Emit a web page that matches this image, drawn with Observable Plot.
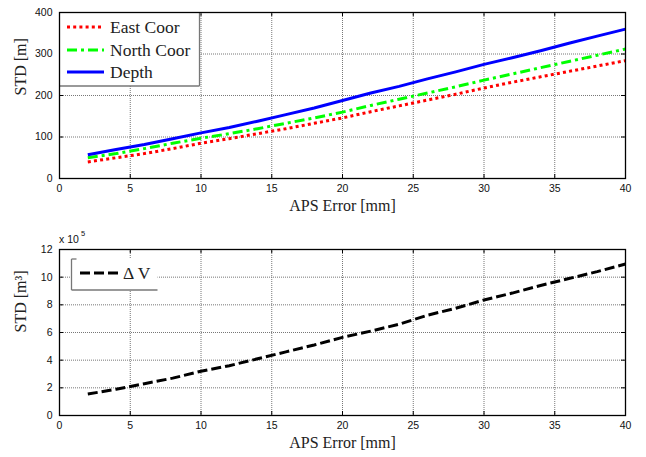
<!DOCTYPE html>
<html><head><meta charset="utf-8">
<script src="https://cdn.jsdelivr.net/npm/d3@7"></script>
<script src="https://cdn.jsdelivr.net/npm/@observablehq/plot@0.6"></script>
<style>html,body{margin:0;padding:0;background:#fff;} svg{display:block;}</style>
</head><body><div id="chart"></div>
<script>
// ---- data ----
const apsError  = [2, 4, 6, 8, 10, 12, 14, 16, 18, 20, 22, 24, 26, 28, 30, 32, 34, 36, 38, 40];
const eastCoor  = [40, 50, 60, 72, 85, 96, 108, 120, 133, 146, 161, 175, 189, 203, 218, 232, 245, 258, 271, 284];
const northCoor = [50, 60, 72, 85, 97, 108, 120, 133, 146, 160, 176, 191, 206, 221, 237, 252, 267, 282, 297, 312];
const depth     = [57, 70, 82, 96, 110, 123, 138, 154, 170, 188, 206, 222, 240, 257, 275, 291, 308, 326, 343, 360];
const deltaV    = [1.55, 1.9, 2.3, 2.7, 3.2, 3.6, 4.1, 4.6, 5.1, 5.65, 6.1, 6.6, 7.25, 7.75, 8.35, 8.85, 9.4, 9.9, 10.4, 10.95]; // x 10^5 m^3
const xTicks       = [0, 5, 10, 15, 20, 25, 30, 35, 40];
const yTicksTop    = [0, 100, 200, 300, 400];
const yTicksBottom = [0, 2, 4, 6, 8, 10, 12];
const topSeries = [
  {name: "East Coor",  values: eastCoor,  stroke: "#ff0000", dash: "3,3.2"},
  {name: "North Coor", values: northCoor, stroke: "#00ff00", dash: "10,4,3,4"},
  {name: "Depth",      values: depth,     stroke: "#0000ff", dash: null}
];
const bottomSeries = [{name: "\u0394 V", values: deltaV, stroke: "#000000", dash: "10,4"}];

const W = 646, mL = 59, mR = 21;
const plotW = W - mL - mR;
const sans = "'Liberation Sans', Arial, sans-serif";
const serif = "'Liberation Serif', 'Times New Roman', serif";

function panel({height, mT, mB, yDomain, yTicks, series, yLabel, xLabelDy}) {
  const plotH = height - mT - mB;
  const marks = [
    Plot.gridX(xTicks, {stroke: "#777", strokeOpacity: 1, strokeDasharray: "1,1", strokeWidth: 1}),
    Plot.gridY(yTicks, {stroke: "#777", strokeOpacity: 1, strokeDasharray: "1,1", strokeWidth: 1}),
  ];
  for (const s of series) {
    marks.push(Plot.line(apsError.map((x, i) => ({x, y: s.values[i]})), {
      x: "x", y: "y", stroke: s.stroke, strokeWidth: 3,
      strokeDasharray: s.dash, strokeLinecap: "butt", strokeLinejoin: "round"
    }));
  }
  marks.push(
    Plot.tickX(xTicks, {x: d => d, insetTop: plotH - 4, stroke: "#000"}),
    Plot.tickX(xTicks, {x: d => d, insetBottom: plotH - 4, stroke: "#000"}),
    Plot.tickY(yTicks, {y: d => d, insetRight: plotW - 4, stroke: "#000"}),
    Plot.tickY(yTicks, {y: d => d, insetLeft: plotW - 4, stroke: "#000"}),
    Plot.frame({stroke: "#000", strokeWidth: 1.3}),
    Plot.axisX(xTicks, {tickSize: 0, tickPadding: 6, label: null, fontSize: 10.5, fill: "#111"}),
    Plot.axisY(yTicks, {tickSize: 0, tickPadding: 7, label: null, fontSize: 10.5, fill: "#111"}),
    Plot.text(["APS Error [mm]"], {frameAnchor: "bottom", dy: xLabelDy, fontFamily: serif, fontSize: 16, fill: "#222"}),
    Plot.text([yLabel], {frameAnchor: "left", dx: -39, rotate: -90, fontFamily: serif, fontSize: 16, fill: "#222"})
  );
  return Plot.plot({
    width: W, height, marginTop: mT, marginBottom: mB, marginLeft: mL, marginRight: mR,
    x: {domain: [0, 40]},
    y: {domain: yDomain},
    style: {fontFamily: sans, fontSize: "10.5px", color: "#111", background: "#fff", overflow: "visible"},
    marks
  });
}

function finishLegend(svg, box, items, rowY, sampleX1, sampleX2, textX, edges) {
  const s = d3.select(svg);
  const g = s.append("g").attr("class", "legend").attr("text-anchor", "start");
  g.append("rect").attr("x", box.x).attr("y", box.y).attr("width", box.w).attr("height", box.h)
    .attr("fill", "#fff");
  const edge = "#777";
  if (edges.right) g.append("line").attr("x1", box.x + box.w).attr("x2", box.x + box.w)
    .attr("y1", box.y).attr("y2", box.y + box.h).attr("stroke", edge).attr("stroke-width", 1.3);
  if (edges.left) g.append("line").attr("x1", box.x).attr("x2", box.x)
    .attr("y1", box.y).attr("y2", box.y + box.h).attr("stroke", edge).attr("stroke-width", 1.3);
  if (edges.topStub) g.append("line").attr("x1", box.x).attr("x2", box.x + 5)
    .attr("y1", box.y).attr("y2", box.y).attr("stroke", edge).attr("stroke-width", 1.3);
  g.append("line").attr("x1", box.x).attr("x2", box.x + box.w)
    .attr("y1", box.y + box.h).attr("y2", box.y + box.h).attr("stroke", edge).attr("stroke-width", 1.5);
  items.forEach((it, i) => {
    g.append("line").attr("x1", sampleX1).attr("x2", sampleX2).attr("y1", rowY[i]).attr("y2", rowY[i])
      .attr("stroke", it.stroke).attr("stroke-width", 3)
      .attr("stroke-dasharray", it.dash).attr("stroke-linecap", "butt");
    g.append("text").attr("x", textX).attr("y", rowY[i]).attr("dy", "0.35em")
      .attr("font-family", serif).attr("font-size", 17.5).attr("fill", "#222").text(it.name);
  });
  // keep frame on top
  const fr = svg.querySelector('[aria-label="frame"]');
  if (fr) svg.appendChild(fr);
}

const root = document.getElementById("chart");

const topPlot = panel({height: 228, mT: 12, mB: 50, yDomain: [0, 400], yTicks: yTicksTop,
  series: topSeries, yLabel: "STD [m]", xLabelDy: 32});
root.appendChild(topPlot);
finishLegend(topPlot, {x: mL, y: 12, w: 140.5, h: 74}, topSeries, [27, 50, 72], 67, 104, 110,
  {right: true});

const botPlot = panel({height: 229, mT: 21, mB: 42, yDomain: [0, 12], yTicks: yTicksBottom,
  series: bottomSeries, yLabel: "STD [m\u00B3]", xLabelDy: 32});
root.appendChild(botPlot);
finishLegend(botPlot, {x: 71.5, y: 31, w: 86, h: 31}, bottomSeries, [45], 80, 118, 123,
  {left: true, topStub: true});
// exponent label
const bs = d3.select(botPlot).append("g").attr("text-anchor", "start");
bs.append("text").attr("x", mL).attr("y", 11).attr("dy", "0.35em")
  .attr("font-family", sans).attr("font-size", 10.5).attr("fill", "#111").text("x 10");
bs.append("text").attr("x", mL + 22).attr("y", 5).attr("dy", "0.35em")
  .attr("font-family", sans).attr("font-size", 7.5).attr("fill", "#111").text("5");
</script>
</body></html>
